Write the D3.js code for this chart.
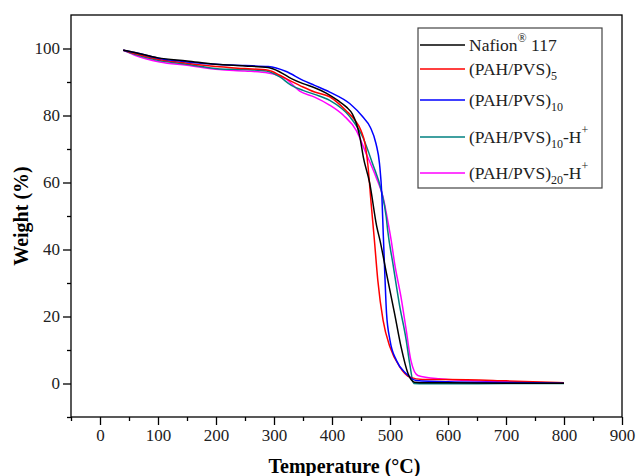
<!DOCTYPE html>
<meta charset="utf-8">
<html>
    <head>
        <style type="text/css">
            body { margin:0; background:#fff; }
            svg { display:block; }
            .graphText { font-family: "Liberation Serif", "Times New Roman", serif; }
            .axis path, .axis line { stroke:#000; stroke-width:1.3; }
            .axis text { font-size:17px; fill:#222; }
        </style>
        <script src="https://d3js.org/d3.v7.min.js"></script>
    </head>
    <body>
        <svg width="637" height="476"></svg>
        <script type="text/javascript">
            // tick values
            var xTicks = [0, 100, 200, 300, 400, 500, 600, 700, 800, 900];
            var xMinor = [-50, 50, 150, 250, 350, 450, 550, 650, 750, 850];
            var yTicks = [0, 20, 40, 60, 80, 100];
            var yMinor = [-10, 10, 30, 50, 70, 90];

            // series
            var nafionT = [40, 60, 100, 150, 200, 250, 290, 310, 330, 350, 370, 390, 410, 425, 435, 442, 448, 454, 465, 477, 483, 494, 508, 519, 531, 542, 560, 600, 700, 800];
            var nafionW = [99.5, 98.8, 97.2, 96.3, 95.3, 94.8, 94.3, 93.0, 91.0, 89.5, 88.3, 86.7, 84.5, 82.5, 80.5, 77.6, 73.6, 67.6, 59.8, 47, 42.5, 32.8, 20.8, 11, 3, 0.4, 0.2, 0.2, 0.1, 0.1];

            var pvs5T = [40, 60, 100, 150, 200, 250, 290, 310, 330, 350, 370, 396, 424, 440, 450, 457, 462, 467.5, 473, 479, 488, 500, 517, 534, 556, 600, 700, 800];
            var pvs5W = [99.5, 98.5, 96.8, 95.6, 94.6, 94.0, 93.5, 92.0, 90.2, 88.5, 87.0, 85.6, 81.5, 78.5, 75.5, 71.5, 65, 53.7, 43, 30.8, 18.9, 10.9, 4.9, 1.9, 1.2, 1.2, 0.8, 0.2];

            var pvs10T = [40, 60, 103, 150, 206, 250, 290, 320, 350, 370, 396, 431, 453, 466, 476, 482, 486, 488.5, 491, 494, 500, 511, 528, 545, 600, 700, 800];
            var pvs10W = [99.5, 98.8, 97, 96, 95.2, 94.9, 94.6, 93.2, 90.5, 89, 87, 83.5, 79.6, 76.5, 71.5, 65.5, 56, 44, 33, 21, 12.9, 6.9, 2.9, 0.9, 0.5, 0.3, 0.1];

            var pvs10hT = [40, 60, 100, 150, 206, 250, 287, 310, 330, 350, 370, 396, 431, 453, 470, 485, 493.5, 496, 505, 516, 528, 534, 541, 560, 600, 700, 800];
            var pvs10hW = [99.5, 98.3, 96.5, 95.3, 93.9, 93.7, 93.3, 91.5, 89, 87.5, 86.3, 84.5, 79.6, 73.6, 65.6, 57.6, 49.7, 45.7, 35.8, 23.8, 12.9, 5.9, 0, -0.1, -0.1, 0, 0];

            var pvs20hT = [40, 60, 103, 150, 206, 250, 290, 320, 345, 370, 395, 420, 442, 459, 476, 488, 496, 502, 508, 519, 528, 536, 548, 585, 600, 700, 800];
            var pvs20hW = [99.5, 98, 96, 95, 93.7, 93.3, 92.7, 91, 87.2, 85.5, 83.2, 80, 75.5, 68.6, 61.6, 55.7, 48.7, 42.8, 35.8, 25.8, 15.9, 6.9, 2.4, 1.4, 1.2, 0.5, 0.1];

            var series = [
                {name: "Nafion", t: nafionT, w: nafionW, color: "#000000"},
                {name: "(PAH/PVS)5", t: pvs5T, w: pvs5W, color: "#ff0000"},
                {name: "(PAH/PVS)10", t: pvs10T, w: pvs10W, color: "#0000ff"},
                {name: "(PAH/PVS)10-H+", t: pvs10hT, w: pvs10hW, color: "#008080"},
                {name: "(PAH/PVS)20-H+", t: pvs20hT, w: pvs20hW, color: "#ff00ff"}
            ];

            var margin = {top: 15, right: 15, bottom: 59, left: 71};
            var width = 637, height = 476;

            var xScale = d3.scaleLinear().domain([-50, 900]).range([margin.left, width - margin.right]);
            var yScale = d3.scaleLinear().domain([-10, 110]).range([height - margin.bottom, margin.top]);

            var svg = d3.select("svg");

            var line = d3.line()
                .x(d => xScale(d[0]))
                .y(d => yScale(d[1]))
                .curve(d3.curveMonotoneX);

            // draw order: pink under, black on top-ish
            [4, 3, 1, 2, 0].forEach(i => {
                var s = series[i];
                svg.append("path")
                    .datum(s.t.map((t, j) => [t, s.w[j]]))
                    .attr("fill", "none")
                    .attr("stroke", s.color)
                    .attr("stroke-width", 1.5)
                    .attr("d", line);
            });

            // frame
            svg.append("rect")
                .attr("x", margin.left).attr("y", margin.top)
                .attr("width", width - margin.left - margin.right)
                .attr("height", height - margin.top - margin.bottom)
                .attr("fill", "none").attr("stroke", "#000").attr("stroke-width", 1.3);

            var yb = height - margin.bottom;
            svg.append("g").attr("class", "axis graphText")
                .attr("transform", "translate(0," + yb + ")")
                .call(d3.axisBottom(xScale).tickValues(xTicks).tickSize(8).tickSizeOuter(0).tickPadding(4))
                .call(g => g.select(".domain").remove());
            svg.append("g").attr("class", "axis graphText")
                .attr("transform", "translate(0," + yb + ")")
                .call(d3.axisBottom(xScale).tickValues(xMinor).tickSize(4).tickSizeOuter(0).tickFormat(""))
                .call(g => g.select(".domain").remove());

            svg.append("g").attr("class", "axis graphText")
                .attr("transform", "translate(" + margin.left + ",0)")
                .call(d3.axisLeft(yScale).tickValues(yTicks).tickSize(8).tickSizeOuter(0).tickPadding(3))
                .call(g => g.select(".domain").remove());
            svg.append("g").attr("class", "axis graphText")
                .attr("transform", "translate(" + margin.left + ",0)")
                .call(d3.axisLeft(yScale).tickValues(yMinor).tickSize(4).tickSizeOuter(0).tickFormat(""))
                .call(g => g.select(".domain").remove());

            // axis titles
            svg.append("text").attr("class", "graphText")
                .attr("x", (margin.left + width - margin.right) / 2 - 2).attr("y", 473)
                .attr("text-anchor", "middle")
                .style("font-size", "20px").style("font-weight", "bold")
                .text("Temperature (°C)");
            svg.append("text").attr("class", "graphText")
                .attr("transform", "translate(28," + ((margin.top + yb) / 2) + ") rotate(-90)")
                .attr("text-anchor", "middle")
                .style("font-size", "20px").style("font-weight", "bold")
                .text("Weight (%)");

            // legend
            var lg = svg.append("g").attr("class", "graphText");
            lg.append("rect")
                .attr("x", 418).attr("y", 28).attr("width", 184).attr("height", 160)
                .attr("fill", "#fff").attr("stroke", "#444").attr("stroke-width", 1.2);
            var legendY = [45, 69, 100, 137, 173];
            var labels = [
                [["Nafion", 0], ["®", -1], [" 117", 0]],
                [["(PAH/PVS)", 0], ["5", 1]],
                [["(PAH/PVS)", 0], ["10", 1]],
                [["(PAH/PVS)", 0], ["10", 1], ["-H", 0], ["+", -1]],
                [["(PAH/PVS)", 0], ["20", 1], ["-H", 0], ["+", -1]]
            ];
            series.forEach((s, i) => {
                lg.append("line")
                    .attr("x1", 420).attr("x2", 465)
                    .attr("y1", legendY[i]).attr("y2", legendY[i])
                    .attr("stroke", s.color).attr("stroke-width", 1.5);
                var t = lg.append("text")
                    .attr("x", 469).attr("y", legendY[i] + 6)
                    .style("font-size", "17.5px").style("fill", "#222");
                labels[i].forEach(p => {
                    var ts = t.append("tspan").text(p[0]);
                    if (p[1] === 1) ts.attr("y", legendY[i] + 11).style("font-size", "12px");
                    else if (p[1] === -1) ts.attr("y", legendY[i] - 3).style("font-size", "12px");
                    else ts.attr("y", legendY[i] + 6);
                });
            });
        </script>
    </body>
</html>
